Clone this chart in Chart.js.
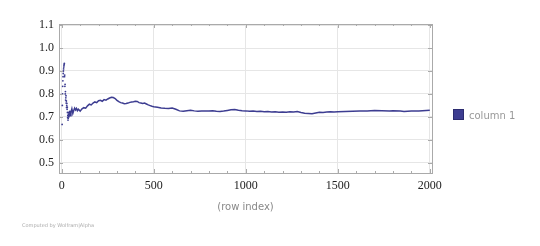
<!DOCTYPE html>
<html>
<head>
<meta charset="utf-8">
<script src="https://cdn.jsdelivr.net/npm/chart.js@4"></script>
<style>
  body { margin: 0; background: #fff; }
  #wrap { position: relative; width: 540px; height: 246px; }
  #legend { position: absolute; left: 453px; top: 109px; font: 10px "DejaVu Sans", sans-serif; color: #999; white-space: nowrap; }
  #legend span.box { display: inline-block; width: 9px; height: 9px; background: #3d3d91; border: 1px solid #2c2c70; vertical-align: -1px; margin-right: 5px; }
  #footer { position: absolute; left: 22px; top: 222px; font: 5px "DejaVu Sans", sans-serif; color: #aaa; }
</style>
</head>
<body>
<div id="wrap">
  <canvas id="chart" width="540" height="246"></canvas>
  <div id="legend"><span class="box"></span>column 1</div>
  <div id="footer">Computed by Wolfram|Alpha</div>
</div>
<script>
// scattered running mean at the start (drawn as dots)
const earlyRows = [2, 3, 4, 5, 6, 7, 8, 9, 10, 11, 12, 13, 14, 15, 16, 17, 18, 19, 20, 21, 22, 23, 24, 25, 26, 27, 28, 29, 30, 31, 32, 33, 34, 35, 36, 37, 38, 39, 40, 41, 42];
const earlyValues = [0.667, 0.75, 0.8, 0.833, 0.857, 0.875, 0.889, 0.9, 0.909, 0.917, 0.923, 0.929, 0.933, 0.875, 0.882, 0.833, 0.842, 0.8, 0.81, 0.773, 0.783, 0.792, 0.76, 0.769, 0.741, 0.75, 0.759, 0.733, 0.742, 0.719, 0.697, 0.706, 0.686, 0.694, 0.703, 0.711, 0.718, 0.7, 0.707, 0.714, 0.721];

// the settled part (drawn as a line)
const lineRows = [43, 45, 50, 55, 60, 65, 70, 75, 80, 85, 90, 100, 110, 120, 130, 140, 150, 160, 170, 180, 190, 200, 210, 220, 230, 240, 250, 260, 270, 280, 290, 300, 310, 320, 330, 340, 350, 360, 370, 380, 390, 400, 410, 420, 430, 440, 450, 460, 470, 480, 490, 500, 520, 540, 560, 580, 600, 620, 640, 660, 680, 700, 720, 740, 760, 780, 800, 820, 840, 860, 880, 900, 920, 940, 960, 980, 1000, 1020, 1040, 1060, 1080, 1100, 1120, 1140, 1160, 1180, 1200, 1220, 1240, 1260, 1280, 1300, 1320, 1340, 1360, 1380, 1400, 1420, 1440, 1460, 1480, 1500, 1540, 1580, 1620, 1660, 1700, 1740, 1780, 1800, 1840, 1860, 1880, 1900, 1940, 1960, 1980, 2000];
const lineValues = [0.727, 0.705, 0.72, 0.735, 0.715, 0.728, 0.738, 0.73, 0.737, 0.727, 0.733, 0.725, 0.735, 0.74, 0.738, 0.748, 0.755, 0.752, 0.76, 0.765, 0.762, 0.77, 0.772, 0.768, 0.775, 0.773, 0.778, 0.782, 0.785, 0.784, 0.78, 0.772, 0.766, 0.762, 0.76, 0.757, 0.758, 0.76, 0.763, 0.765, 0.766, 0.768, 0.767, 0.762, 0.76, 0.758, 0.76, 0.756, 0.752, 0.749, 0.746, 0.744, 0.742, 0.739, 0.737, 0.736, 0.738, 0.733, 0.726, 0.724, 0.727, 0.729, 0.726, 0.724, 0.725, 0.726, 0.725, 0.727, 0.724, 0.723, 0.725, 0.728, 0.731, 0.732, 0.729, 0.727, 0.726, 0.724, 0.725, 0.723, 0.724, 0.722, 0.723, 0.721, 0.722, 0.72, 0.721, 0.72, 0.722, 0.721, 0.723, 0.719, 0.716, 0.715, 0.714, 0.717, 0.72, 0.719, 0.721, 0.722, 0.721, 0.722, 0.723, 0.724, 0.725, 0.726, 0.728, 0.727, 0.726, 0.727, 0.725, 0.723, 0.724, 0.725, 0.726, 0.727, 0.728, 0.729];

const xTicks = [0, 500, 1000, 1500, 2000];
const yTicks = [0.5, 0.6, 0.7, 0.8, 0.9, 1.0, 1.1];

const color = '#3d3d91';
const nEarly = earlyRows.length;
const points = earlyRows.map((r, i) => ({x: r, y: earlyValues[i]}))
  .concat(lineRows.map((r, i) => ({x: r, y: lineValues[i]})));

// gray frame with small inward ticks, like the original plot
const framePlugin = {
  id: 'frame',
  afterDatasetsDraw(chart) {
    const {ctx, chartArea: a, scales: {x, y}} = chart;
    ctx.save();
    ctx.strokeStyle = '#aaa';
    ctx.lineWidth = 1;
    ctx.strokeRect(a.left + 0.5, a.top + 0.5, a.right - a.left, a.bottom - a.top);
    ctx.beginPath();
    for (let v = 0; v <= 2000; v += 100) {
      const px = Math.round(x.getPixelForValue(v)) + 0.5;
      const len = v % 500 === 0 ? 4 : 2;
      ctx.moveTo(px, a.bottom); ctx.lineTo(px, a.bottom - len);
      ctx.moveTo(px, a.top); ctx.lineTo(px, a.top + len);
    }
    for (let v = 0.5; v <= 1.1001; v += 0.1) {
      const py = Math.round(y.getPixelForValue(v)) + 0.5;
      ctx.moveTo(a.left, py); ctx.lineTo(a.left + 4, py);
      ctx.moveTo(a.right, py); ctx.lineTo(a.right - 4, py);
    }
    ctx.stroke();
    ctx.restore();
  }
};

new Chart(document.getElementById('chart'), {
  type: 'scatter',
  data: {
    datasets: [{
      label: 'column 1',
      data: points,
      showLine: true,
      borderColor: color,
      backgroundColor: color,
      borderWidth: 1.5,
      pointRadius: ctx => ctx.dataIndex < nEarly ? 0.9 : 0,
      pointBorderWidth: 0,
      segment: {
        borderColor: ctx => ctx.p0DataIndex < nEarly - 1 ? 'transparent' : color
      }
    }]
  },
  options: {
    responsive: false,
    animation: false,
    layout: { padding: { left: 0, right: 108, top: 24, bottom: 29 } },
    plugins: { legend: { display: false }, tooltip: { enabled: false } },
    scales: {
      x: {
        type: 'linear',
        min: -15,
        max: 2012,
        afterBuildTicks: axis => { axis.ticks = xTicks.map(v => ({value: v})); },
        afterFit: axis => { axis.height = 44; },
        grid: { color: '#e6e6e6', drawTicks: false },
        border: { display: false },
        ticks: { color: '#222', padding: 6, font: { family: 'Liberation Serif', size: 12 }, callback: v => String(v) },
        title: { display: true, text: '(row index)', color: '#888', padding: { top: 4 }, font: { family: 'DejaVu Sans', size: 10 } }
      },
      y: {
        min: 0.455,
        max: 1.105,
        afterBuildTicks: axis => { axis.ticks = yTicks.map(v => ({value: v})); },
        afterFit: axis => { axis.width = 59; },
        grid: { color: '#e6e6e6', drawTicks: false },
        border: { display: false },
        ticks: { color: '#222', padding: 5, font: { family: 'Liberation Serif', size: 12 }, callback: v => v.toFixed(1) }
      }
    }
  },
  plugins: [framePlugin]
});
</script>
</body>
</html>
